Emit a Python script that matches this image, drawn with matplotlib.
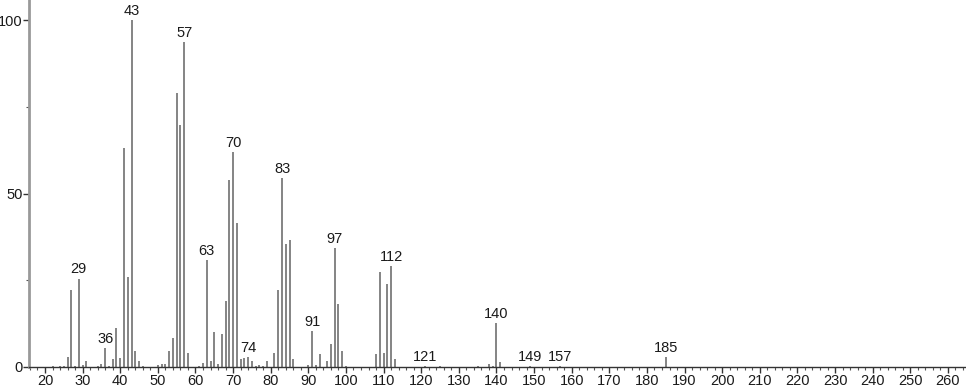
import matplotlib.pyplot as plt
from matplotlib.ticker import MultipleLocator

# m/z and relative intensity
mz = [22, 24, 25, 26, 27, 28, 29, 30, 31, 34, 35, 36, 37, 38, 39, 40,
      41, 42, 43, 44, 45, 46, 50, 51, 52, 53, 54, 55, 56, 57, 58,
      61, 62, 63, 64, 65, 66, 67, 68, 69, 70, 71, 72, 73, 74, 75, 76,
      77, 78, 79, 81, 82, 83, 84, 85, 86, 90, 91, 92, 93, 95, 96, 97,
      98, 99, 100, 108, 109, 110, 111, 112, 113, 121, 125, 135, 138,
      139, 140, 141, 149, 157, 185]
intensity = [0.2, 0.2, 0.4, 2.9, 22.2, 0.4, 25.5, 0.5, 1.8, 0.2, 1.0, 5.5,
             0.3, 2.3, 11.1, 2.7, 63.2, 26.0, 100.0, 4.7, 1.6, 0.2, 0.5,
             0.8, 0.8, 4.7, 8.4, 79.0, 69.9, 93.6, 4.0,
             0.3, 1.2, 30.8, 1.6, 10.2, 0.9, 9.6, 19.0, 53.8, 62.1, 41.5,
             2.2, 2.6, 2.9, 1.6, 0.2, 0.7, 0.4, 1.7, 4.0, 22.3, 54.6, 35.4,
             36.7, 2.3, 0.7, 10.4, 0.7, 3.7, 1.8, 6.6, 34.3, 18.1, 4.6, 0.3,
             3.7, 27.4, 4.1, 23.8, 29.1, 2.2, 0.3, 0.3, 0.3, 0.8, 0.4, 12.8,
             1.5, 0.4, 0.3, 2.9]
labeled = [29, 36, 43, 57, 63, 70, 74, 83, 91, 97, 112, 121, 140, 149, 157, 185]

plt.rcParams['font.family'] = ['Liberation Sans', 'DejaVu Sans']

fig = plt.figure(figsize=(9.66, 3.89), dpi=100)
ax = fig.add_axes([29 / 966, 22 / 389, 1 - 29 / 966, 1 - 22 / 389])

ax.vlines(mz, 0, intensity, color='#707070', lw=1.2)

for m, v in zip(mz, intensity):
    if m in labeled:
        ax.annotate(str(m), (m, v), xytext=(0, 1.5), textcoords='offset points',
                    ha='center', va='bottom', fontsize=10.5, color='#1a1a1a')

ax.set_xlim(15.75, 264.8)
ax.set_ylim(0, 105.8)

ax.set_xticks(range(20, 261, 10))
ax.xaxis.set_minor_locator(MultipleLocator(2))
ax.yaxis.set_major_locator(MultipleLocator(50))
ax.yaxis.set_minor_locator(MultipleLocator(25))

for s in ['top', 'right']:
    ax.spines[s].set_visible(False)
ax.spines['left'].set_color('#999999')
ax.spines['left'].set_linewidth(2)
ax.spines['bottom'].set_color('#333333')
ax.spines['bottom'].set_linewidth(1)

ax.tick_params(axis='x', which='major', length=4, width=1, color='#333333',
               labelsize=10.5, pad=1, labelcolor='#1a1a1a')
ax.tick_params(axis='x', which='minor', length=2.5, width=0.8, color='#555555')
ax.tick_params(axis='y', which='major', length=4, width=1, color='#333333',
               labelsize=10.5, pad=0.5, labelcolor='#1a1a1a')
ax.tick_params(axis='y', which='minor', length=2.5, width=0.8, color='#555555')

plt.savefig('out.png', dpi=100)
